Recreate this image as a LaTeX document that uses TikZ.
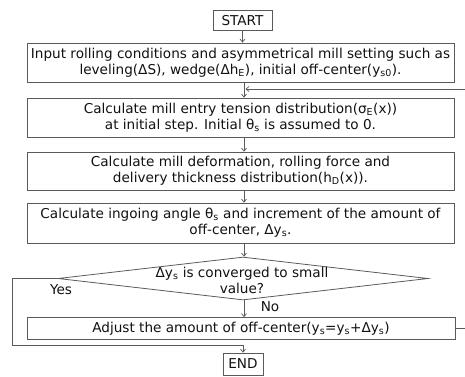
\documentclass[tikz,border=0pt]{standalone}
\usepackage{fontspec}
\setmainfont{DejaVu Sans}
\usetikzlibrary{arrows.meta,shapes.geometric}
\definecolor{linegray}{HTML}{5A5A5A}
\definecolor{textblack}{HTML}{111111}
\newcommand{\sub}[1]{\textsubscript{#1}}
\begin{document}
\begin{tikzpicture}[x=1pt,y=-1pt,
  box/.style={draw=linegray, line width=0.8pt, align=center, inner sep=0pt,
    font=\fontsize{13.6}{16}\selectfont, text=textblack},
  lbl/.style={align=center, inner sep=0pt, font=\fontsize{13.6}{16}\selectfont, text=textblack},
  arr/.style={-{Straight Barb[length=3pt,width=5pt]}, draw=linegray, line width=0.7pt},
  ln/.style={draw=linegray, line width=0.7pt}]
\useasboundingbox (0,0) rectangle (465,376);
\node[box, minimum width=59pt, minimum height=20pt] (start) at (242.5,20.5) {START};
\node[box, minimum width=427pt, minimum height=39pt] (b1) at (240.5,62.5)
  {Input rolling conditions and asymmetrical mill setting such as\\
   leveling(ΔS), wedge(Δh\sub{E}), initial off-center(y\sub{s0}).};
\node[box, minimum width=427pt, minimum height=39pt] (b2) at (240.5,117.5)
  {Calculate mill entry tension distribution(σ\sub{E}(x))\\
   at initial step. Initial θ\sub{s} is assumed to 0.};
\node[box, minimum width=427pt, minimum height=38pt] (b3) at (240.5,171)
  {Calculate mill deformation, rolling force and\\
   delivery thickness distribution(h\sub{D}(x)).};
\node[box, minimum width=427pt, minimum height=40pt] (b4) at (240.5,223)
  {Calculate ingoing angle θ\sub{s} and increment of the amount of\\
   off-center, Δy\sub{s}.};
\node[diamond, draw=linegray, line width=0.8pt, minimum width=370pt, minimum height=43pt, inner sep=0pt] (dec) at (243,278.5) {};
\node[lbl] (dect) at (242,280) {Δy\sub{s} is converged to small\\ value?};
\node[box, minimum width=428pt, minimum height=22pt] (b5) at (241,328.5)
  {Adjust the amount of off-center(y\sub{s}=y\sub{s}+Δy\sub{s})};
\node[box, minimum width=40pt, minimum height=22pt] (end) at (243,364) {END};
\node[lbl] (yes) at (61,290) {Yes};
\node[lbl] (no) at (270,307) {No};
\coordinate (merge) at (244,89);
\coordinate (rt) at (480,89);
\coordinate (ycorner) at (12,345);
\coordinate (yjoin) at (243,345);
\draw[arr] (start.south) -- (start.south |- b1.north);
\draw[arr] (b1.south -| merge) -- (b2.north -| merge);
\draw[arr] (b2.south -| merge) -- (b3.north -| merge);
\draw[arr] (b3.south -| merge) -- (b4.north -| merge);
\draw[arr] (b4.south -| merge) -- (dec.north -| merge);
\draw[arr] (dec.south -| merge) -- (b5.north -| merge);
\draw[arr] (b5.east) -- (b5.east -| rt) -- (rt) -- ([xshift=1.5pt]merge);
\draw[ln] (dec.west) -| (ycorner) -- (yjoin);
\draw[arr] (yjoin) -- (end.north);
\end{tikzpicture}
\end{document}
